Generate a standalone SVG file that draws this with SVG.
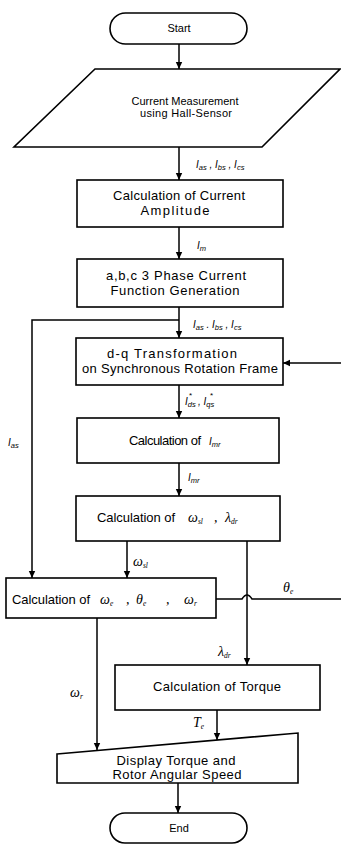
<svg xmlns="http://www.w3.org/2000/svg" width="341" height="844" viewBox="0 0 341 844">
<defs>
<marker id="ah" markerUnits="userSpaceOnUse" markerWidth="8" markerHeight="8" refX="7" refY="4" orient="auto">
<path d="M0,0.8 L7,4 L0,7.2 Z" fill="#000"/>
</marker>
<style>
.shape{fill:#fff;stroke:#000;stroke-width:1.6}
.ln{fill:none;stroke:#000;stroke-width:1.5}
.arr{fill:none;stroke:#000;stroke-width:1.5;marker-end:url(#ah)}
.t{font-family:"Liberation Sans",Arial,sans-serif;font-size:13px;fill:#000;text-anchor:middle}
.ts{font-family:"Liberation Sans",Arial,sans-serif;font-size:11px;fill:#000;text-anchor:middle}
.lb{font-family:"Liberation Sans",Arial,sans-serif;font-style:italic;font-size:10px;fill:#000}
.g{font-family:"Liberation Serif","Times New Roman",serif;font-style:italic;font-size:14px;fill:#000}
.sub{font-size:7.5px}
.st{font-family:"Liberation Sans",Arial,sans-serif;font-size:8px;fill:#000}
</style>
</defs>
<rect width="341" height="844" fill="#fff"/>

<g id="connectors">
<line class="arr" x1="179" y1="44" x2="179" y2="69"/>
<line class="arr" x1="179" y1="147" x2="179" y2="180"/>
<line class="arr" x1="179" y1="227" x2="179" y2="259"/>
<line class="arr" x1="179" y1="307" x2="179" y2="338"/>
<polyline class="arr" points="179,320 32,320 32,578"/>
<line class="arr" x1="341" y1="363" x2="283" y2="363"/>
<line class="arr" x1="179" y1="385" x2="179" y2="418"/>
<line class="arr" x1="179" y1="463" x2="179" y2="496"/>
<line class="arr" x1="127" y1="541" x2="127" y2="578"/>
<line class="arr" x1="247" y1="541" x2="247" y2="665"/>
<path class="ln" d="M216,599 H242 Q247,591 252,599 H341"/>
<line class="arr" x1="97" y1="618" x2="97" y2="750"/>
<line class="arr" x1="217" y1="710" x2="217" y2="740"/>
<line class="arr" x1="178" y1="783" x2="178" y2="813"/>
</g>

<g id="labels">
<text class="lb" x="196" y="168">I<tspan class="sub" dy="1.5">as</tspan><tspan dy="-1.5"> , I</tspan><tspan class="sub" dy="1.5">bs</tspan><tspan dy="-1.5"> , I</tspan><tspan class="sub" dy="1.5">cs</tspan></text>
<text class="lb" x="197" y="249">I<tspan class="sub" dy="1.5">m</tspan></text>
<text class="lb" x="193" y="328">I<tspan class="sub" dy="1.5">as</tspan><tspan dy="-1.5"> . I</tspan><tspan class="sub" dy="1.5">bs</tspan><tspan dy="-1.5"> , I</tspan><tspan class="sub" dy="1.5">cs</tspan></text>
<text class="lb" x="185" y="405">I<tspan class="sub" dy="1.5">ds</tspan></text>
<text class="st" x="189" y="398">*</text>
<text class="lb" x="198" y="405">, I<tspan class="sub" dy="1.5">qs</tspan></text>
<text class="st" x="210" y="398">*</text>
<text class="lb" x="8" y="446">I<tspan class="sub" dy="1.5">as</tspan></text>
<text class="lb" x="188" y="481">I<tspan class="sub" dy="1.5">mr</tspan></text>
<text class="g" x="133" y="566">ω<tspan class="sub" dy="1.5">sl</tspan></text>
<text class="g" x="283" y="592">θ<tspan class="sub" dy="1.5">e</tspan></text>
<text class="g" x="218" y="656">λ<tspan class="sub" dy="1.5">dr</tspan></text>
<text class="g" x="70" y="697">ω<tspan class="sub" dy="1.5">r</tspan></text>
<text class="g" x="193" y="727">T<tspan class="sub" dy="1.5">e</tspan></text>
</g>

<g id="start">
<rect class="shape" x="110" y="13" width="137" height="31" rx="15.5"/>
<text class="ts" x="179" y="32">Start</text>
</g>

<g id="measure">
<polygon class="shape" points="95,69 340,69 262,147 14,147"/>
<text class="ts" x="185" y="105" textLength="107">Current Measurement</text>
<text class="ts" x="186" y="117" textLength="92">using Hall-Sensor</text>
</g>

<g id="amplitude">
<rect class="shape" x="77" y="180" width="206" height="47"/>
<text class="t" x="179" y="200" textLength="132">Calculation of Current</text>
<text class="t" x="175" y="215" textLength="69">Amplitude</text>
</g>

<g id="phase">
<rect class="shape" x="77" y="259" width="206" height="48"/>
<text class="t" x="176" y="280" textLength="140">a,b,c 3 Phase Current</text>
<text class="t" x="175" y="295" textLength="129">Function Generation</text>
</g>

<g id="dq">
<rect class="shape" x="76" y="338" width="207" height="47"/>
<text class="t" x="172" y="358" textLength="130">d-q Transformation</text>
<text class="t" x="180" y="373" textLength="196">on Synchronous Rotation Frame</text>
</g>

<g id="imr">
<rect class="shape" x="77" y="418" width="202" height="45"/>
<text class="t" x="165" y="445" textLength="72">Calculation of</text>
<text class="lb" x="209" y="445">I<tspan class="sub" dy="1.5">mr</tspan></text>
</g>

<g id="slip">
<rect class="shape" x="76" y="496" width="204" height="45"/>
<text class="t" x="136" y="522" textLength="78">Calculation of</text>
<text class="g" x="188" y="522">ω<tspan class="sub" dy="1.5">sl</tspan></text>
<text class="g" x="214" y="522">,</text>
<text class="g" x="225" y="522">λ<tspan class="sub" dy="1.5">dr</tspan></text>
</g>

<g id="speed">
<rect class="shape" x="6" y="578" width="210" height="40"/>
<text class="t" x="51" y="604" textLength="78">Calculation of</text>
<text class="g" x="100" y="604">ω<tspan class="sub" dy="1.5">e</tspan></text>
<text class="g" x="126" y="604">,</text>
<text class="g" x="136" y="604">θ<tspan class="sub" dy="1.5">e</tspan></text>
<text class="g" x="166" y="604">,</text>
<text class="g" x="184" y="604">ω<tspan class="sub" dy="1.5">r</tspan></text>
</g>

<g id="torque">
<rect class="shape" x="115" y="665" width="205" height="45"/>
<text class="t" x="217" y="691" textLength="128">Calculation of Torque</text>
</g>

<g id="display">
<polygon class="shape" points="57,754 298,733 298,783 57,783"/>
<text class="t" x="176" y="765" textLength="119">Display Torque and</text>
<text class="t" x="177" y="779" textLength="129">Rotor Angular Speed</text>
</g>

<g id="end">
<rect class="shape" x="110" y="813" width="137" height="30" rx="15"/>
<text class="ts" x="179" y="832">End</text>
</g>
</svg>
